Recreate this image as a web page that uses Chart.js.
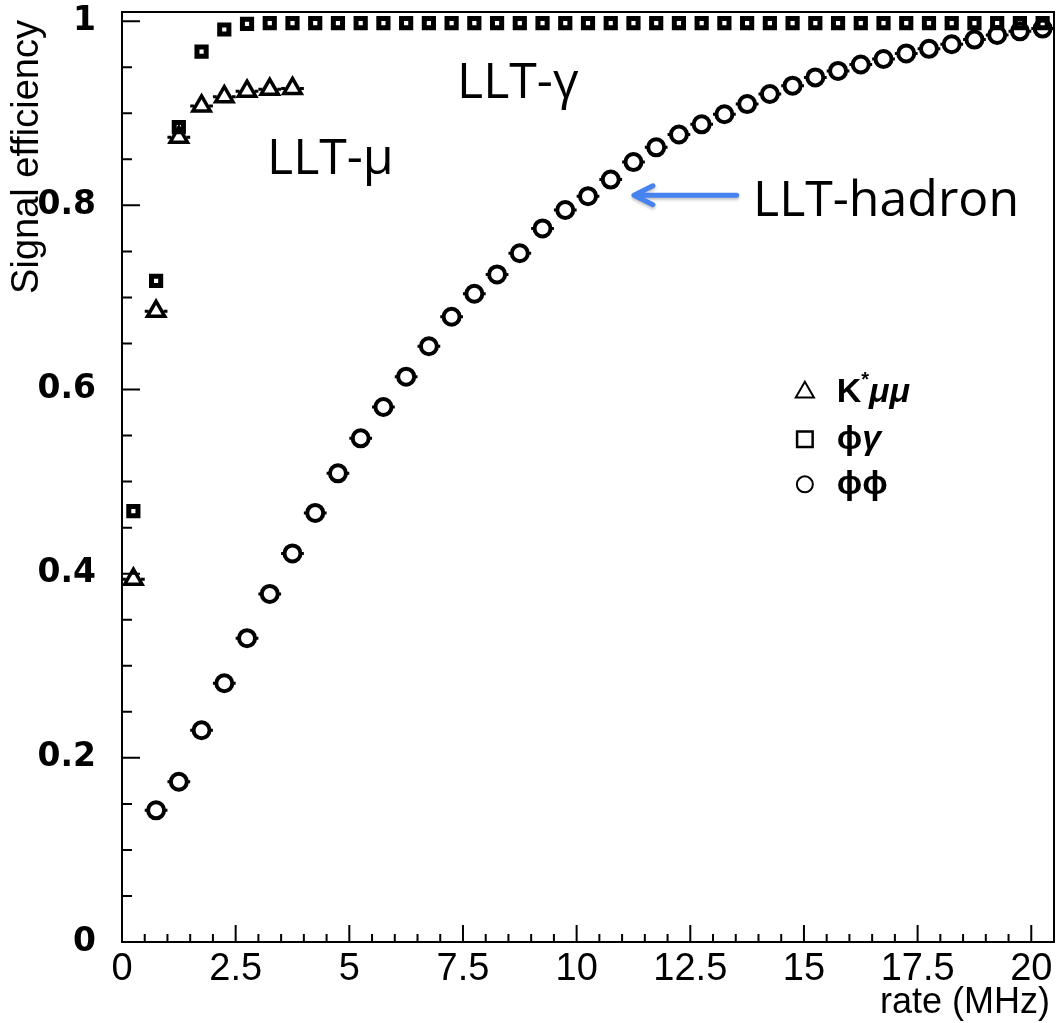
<!DOCTYPE html>
<html>
<head>
<meta charset="utf-8">
<title>Signal efficiency vs LLT rate</title>
<script src="https://cdn.jsdelivr.net/npm/chart.js@4.4.1/dist/chart.umd.min.js"></script>
<style>
  html, body { margin: 0; padding: 0; background: #fff; }
  canvas { display: block; }
</style>
</head>
<body>
<canvas id="chartEff" width="1057" height="1023"></canvas>
<script>
/* eslint-disable no-new */
/* eslint-disable no-undef */

// rate bin centres (MHz)
const rateBins = [
  0.25, 0.75, 1.25, 1.75, 2.25, 2.75, 3.25, 3.75, 4.25, 4.75,
  5.25, 5.75, 6.25, 6.75, 7.25, 7.75, 8.25, 8.75, 9.25, 9.75,
  10.25, 10.75, 11.25, 11.75, 12.25, 12.75, 13.25, 13.75, 14.25, 14.75,
  15.25, 15.75, 16.25, 16.75, 17.25, 17.75, 18.25, 18.75, 19.25, 19.75,
  20.25
];
const binHalfWidth = 0.25;

// K*mumu, LLT-mu, first 8 bins
const kstarMuMu = [0.394, 0.685, 0.874, 0.908, 0.918, 0.924, 0.926, 0.927];

// phi gamma, LLT-gamma, all bins
const phiGamma = [
  0.468, 0.718, 0.885, 0.967, 0.991, 0.997, 0.998, 0.998, 0.998, 0.998,
  0.998, 0.998, 0.998, 0.998, 0.998, 0.998, 0.998, 0.998, 0.998, 0.998,
  0.998, 0.998, 0.998, 0.998, 0.998, 0.998, 0.998, 0.998, 0.998, 0.998,
  0.998, 0.998, 0.998, 0.998, 0.998, 0.998, 0.998, 0.998, 0.998, 0.998,
  0.998
];

// phi phi, LLT-hadron, from the second bin on
const phiPhi = [
  0.143, 0.174, 0.230, 0.281, 0.330, 0.378, 0.422, 0.466, 0.509, 0.547,
  0.581, 0.614, 0.647, 0.679, 0.704, 0.725, 0.748, 0.775, 0.795, 0.810,
  0.828, 0.847, 0.863, 0.877, 0.888, 0.899, 0.910, 0.921, 0.930, 0.939,
  0.946, 0.953, 0.959, 0.965, 0.970, 0.975, 0.980, 0.985, 0.989, 0.992
];

const xTicks = [0, 2.5, 5, 7.5, 10, 12.5, 15, 17.5, 20];
const yTicks = [0, 0.2, 0.4, 0.6, 0.8, 1];

function toPoints(values, offset) {
  return values.map((v, i) => ({ x: rateBins[i + offset], y: v }));
}

const rootStyle = {
  id: 'rootStyle',
  beforeDatasetsDraw(chart) {
    // horizontal bin-width bars, broken where the marker sits
    const ctx = chart.ctx;
    const xs = chart.scales.x;
    ctx.save();
    ctx.strokeStyle = '#000';
    chart.data.datasets.forEach((ds, di) => {
      if (!ds.errGap) return;
      ctx.lineWidth = ds.errWidth;
      chart.getDatasetMeta(di).data.forEach((el, i) => {
        const xv = ds.data[i].x;
        const lo = xs.getPixelForValue(xv - binHalfWidth);
        const hi = xs.getPixelForValue(xv + binHalfWidth);
        ctx.beginPath();
        if (el.x - ds.errGap > lo) {
          ctx.moveTo(lo, el.y);
          ctx.lineTo(el.x - ds.errGap, el.y);
        }
        if (el.x + ds.errGap < hi) {
          ctx.moveTo(el.x + ds.errGap, el.y);
          ctx.lineTo(hi, el.y);
        }
        ctx.stroke();
      });
    });
    ctx.restore();
  },
  afterDraw(chart) {
    const ctx = chart.ctx;
    const area = chart.chartArea;
    const xs = chart.scales.x;
    const ys = chart.scales.y;
    ctx.save();

    // frame
    ctx.strokeStyle = '#000';
    ctx.lineWidth = 2;
    ctx.strokeRect(area.left, area.top, area.right - area.left, area.bottom - area.top);

    // inward ticks on the left and bottom axes
    ctx.lineWidth = 2;
    ctx.beginPath();
    for (let i = 0; i <= 20; i++) {
      const py = ys.getPixelForValue(i * 0.05);
      const len = i % 4 === 0 ? 18 : 10;
      ctx.moveTo(area.left, py);
      ctx.lineTo(area.left + len, py);
    }
    for (let i = 0; i <= 40; i++) {
      const px = xs.getPixelForValue(i * 0.5);
      const len = i % 5 === 0 ? 17 : 8;
      ctx.moveTo(px, area.bottom);
      ctx.lineTo(px, area.bottom - len);
    }
    ctx.stroke();

    // axis titles
    ctx.fillStyle = '#000';
    ctx.font = '36px "Liberation Sans", Arial, sans-serif';
    ctx.textBaseline = 'alphabetic';
    ctx.textAlign = 'right';
    ctx.fillText('rate (MHz)', 1050, 1013);
    ctx.save();
    ctx.translate(38, 20);
    ctx.rotate(-Math.PI / 2);
    ctx.font = '38px "Liberation Sans", Arial, sans-serif';
    ctx.fillText('Signal efficiency', 0, 0);
    ctx.restore();

    // legend
    const legendRows = [
      { style: 'triangle', radius: 10.5, width: 2, y: 0.597,
        runs: [['K', 'bold 34px'], ['*', 'bold 20px', -12], ['μμ', 'italic bold 34px']] },
      { style: 'rect', radius: 11, width: 2.5, y: 0.546,
        runs: [['ϕ', 'bold 34px'], ['γ', 'italic bold 34px']] },
      { style: 'circle', radius: 8, width: 2, y: 0.497,
        runs: [['ϕϕ', 'bold 34px']] }
    ];
    const mx = xs.getPixelForValue(15.02);
    const tx = xs.getPixelForValue(15.72);
    ctx.strokeStyle = '#000';
    ctx.fillStyle = 'rgba(0,0,0,0)';
    legendRows.forEach(row => {
      const py = ys.getPixelForValue(row.y);
      ctx.lineWidth = row.width;
      Chart.helpers.drawPoint(ctx, { pointStyle: row.style, radius: row.radius, borderWidth: row.width, rotation: 0 }, mx, py);
    });
    ctx.fillStyle = '#000';
    ctx.textAlign = 'left';
    ctx.textBaseline = 'middle';
    legendRows.forEach(row => {
      const py = ys.getPixelForValue(row.y);
      let cx = tx;
      row.runs.forEach(([txt, font, dy]) => {
        ctx.font = font + ' "Liberation Sans", "DejaVu Sans", Arial, sans-serif';
        ctx.fillText(txt, cx, py + (dy || 0));
        cx += ctx.measureText(txt).width;
      });
    });

    // trigger labels
    ctx.font = '50px "Open Sans", "Noto Sans", sans-serif';
    ctx.textBaseline = 'alphabetic';
    ctx.fillText('LLT-γ', xs.getPixelForValue(7.37), ys.getPixelForValue(0.917));
    ctx.fillText('LLT-μ', xs.getPixelForValue(3.19), ys.getPixelForValue(0.834));
    ctx.fillText('LLT-hadron', xs.getPixelForValue(13.88), ys.getPixelForValue(0.788));

    // arrow towards the phi phi curve
    const tipX = xs.getPixelForValue(11.26);
    const tipY = ys.getPixelForValue(0.811);
    const tailX = xs.getPixelForValue(13.52);
    ctx.strokeStyle = '#4682f0';
    ctx.lineWidth = 5;
    ctx.lineCap = 'round';
    ctx.lineJoin = 'round';
    ctx.shadowColor = 'rgba(0,0,0,0.25)';
    ctx.shadowBlur = 3;
    ctx.shadowOffsetY = 2;
    ctx.beginPath();
    ctx.moveTo(tailX, tipY);
    ctx.lineTo(tipX + 2, tipY);
    ctx.moveTo(tipX + 19, tipY - 9.5);
    ctx.lineTo(tipX, tipY);
    ctx.lineTo(tipX + 19, tipY + 9.5);
    ctx.stroke();
    ctx.restore();
  }
};

window.onload = function () {
  const canvas = document.getElementById('chartEff');
  const ctx = canvas.getContext('2d');
  new Chart(ctx, {
    type: 'scatter',
    data: {
      datasets: [{
        label: 'K*μμ',
        data: toPoints(kstarMuMu, 0),
        pointStyle: 'triangle',
        pointRadius: 10,
        borderWidth: 3.5,
        borderColor: '#000',
        backgroundColor: 'rgba(0,0,0,0)',
        errGap: 7.5,
        errWidth: 3
      }, {
        label: 'ϕγ',
        data: toPoints(phiGamma, 0),
        pointStyle: 'rect',
        pointRadius: 6.5,
        borderWidth: 5,
        borderColor: '#000',
        backgroundColor: 'rgba(0,0,0,0)'
      }, {
        label: 'ϕϕ',
        data: toPoints(phiPhi, 1),
        pointStyle: 'circle',
        pointRadius: 8,
        borderWidth: 4,
        borderColor: '#000',
        backgroundColor: 'rgba(0,0,0,0)',
        errGap: 9,
        errWidth: 3
      }]
    },
    options: {
      responsive: false,
      animation: false,
      layout: { autoPadding: false, padding: { top: 12, right: 3, left: 0, bottom: 0 } },
      plugins: {
        legend: { display: false },
        tooltip: { enabled: false }
      },
      scales: {
        x: {
          type: 'linear',
          min: 0,
          max: 20.5,
          grid: { display: false, drawTicks: false },
          border: { display: false },
          afterBuildTicks: scale => { scale.ticks = xTicks.map(v => ({ value: v })); },
          afterFit: scale => {
            scale.height = 81;
            scale.paddingLeft = 0;
            scale.paddingRight = 0;
          },
          ticks: {
            autoSkip: false,
            maxRotation: 0,
            padding: 5,
            color: '#000',
            font: { family: '"Liberation Sans", Arial, sans-serif', size: 38 },
            callback: v => String(v)
          }
        },
        y: {
          type: 'linear',
          min: 0,
          max: 1.01,
          grid: { display: false, drawTicks: false },
          border: { display: false },
          afterBuildTicks: scale => { scale.ticks = yTicks.map(v => ({ value: v })); },
          afterFit: scale => {
            scale.width = 122;
            scale.paddingTop = 0;
            scale.paddingBottom = 0;
          },
          ticks: {
            autoSkip: false,
            padding: 26,
            color: '#000',
            font: { family: '"DejaVu Sans", sans-serif', size: 33, weight: 'bold' },
            callback: v => String(v)
          }
        }
      }
    },
    plugins: [rootStyle]
  });
};
</script>
</body>
</html>
